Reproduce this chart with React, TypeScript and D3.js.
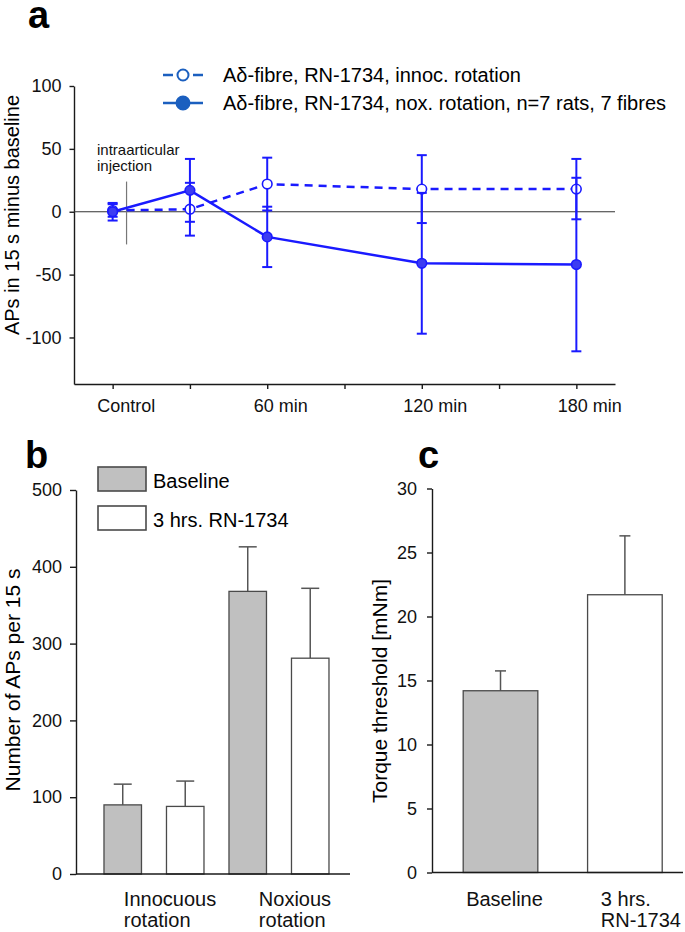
import React, { useEffect, useRef } from 'react';
import * as d3 from 'd3';

// panel a: time course
const timeLabels = ['Control', '', '60 min', '', '120 min', '', '180 min'];
const timeIndex = [0, 1, 2, 4, 6];
const innocMean = [1, 2, 22, 18, 18];
const innocSd = [5, 21, 21, 27, 24];
const noxMean = [0, 17, -20, -41, -42];
const noxSd = [7, 25, 24, 56, 69];
const yTicksA = [100, 50, 0, -50, -100];
const legendA = [
  'Aδ-fibre, RN-1734, innoc. rotation',
  'Aδ-fibre, RN-1734, nox. rotation, n=7 rats, 7 fibres',
];

// panel b: APs per 15 s
const groupsB = [['Innocuous', 'rotation'], ['Noxious', 'rotation']];
const seriesB = ['Baseline', '3 hrs. RN-1734'];
const baselineB = [90, 368];
const baselineErrB = [27, 58];
const drugB = [88, 281];
const drugErrB = [33, 91];
const yTicksB = [0, 100, 200, 300, 400, 500];

// panel c: torque threshold
const categoriesC = [['Baseline'], ['3 hrs.', 'RN-1734']];
const valuesC = [14.2, 21.7];
const errC = [1.55, 4.6];
const yTicksC = [0, 5, 10, 15, 20, 25, 30];

const FONT = '"Liberation Sans", Arial, Helvetica, sans-serif';
const BLUE = '#1a1aff';
const LEGEND_BLUE = '#1b5fbf';
const GREY_FILL = '#c0c0c0';
const EDGE = '#4a4a4a';

const App = () => {
  const svgRef = useRef<SVGSVGElement>(null);

  useEffect(() => {
    const svg = d3.select(svgRef.current);
    svg.selectAll('*').remove();
    svg.attr('font-family', FONT);

    const styleAxis = (g: any, size: number) => {
      g.attr('font-family', null).attr('font-size', null);
      g.select('.domain').attr('stroke', '#1a1a1a').attr('stroke-width', 1.4);
      g.selectAll('.tick line').attr('stroke', '#1a1a1a').attr('stroke-width', 1.4);
      g.selectAll('.tick text')
        .attr('fill', '#111')
        .style('font-size', `${size}px`)
        .style('font-family', FONT);
    };
    const plain = (d: any) => String(d); // hyphen minus like the original

    const panelLabel = (txt: string, x: number, y: number) => {
      svg.append('text')
        .attr('x', x).attr('y', y)
        .style('font-size', '38px')
        .style('font-weight', 'bold')
        .text(txt);
    };

    // ---------------- panel a ----------------
    panelLabel('a', 28, 28);

    const xA = d3.scaleLinear().domain([-0.5, 6.5]).range([74, 615]);
    const yA = d3.scaleLinear().domain([-137, 100]).range([384, 86]);
    const gA = svg.append('g');

    gA.append('g')
      .attr('transform', `translate(74,0)`)
      .call(d3.axisLeft(yA).tickValues(yTicksA).tickFormat(plain)
        .tickSize(4.5).tickSizeOuter(0).tickPadding(8))
      .call(g => styleAxis(g, 18));

    gA.append('g')
      .attr('transform', `translate(0,384)`)
      .call(d3.axisBottom(xA)
        .tickValues(d3.range(timeLabels.length))
        .tickFormat(i => timeLabels[i as number])
        .tickSize(5).tickSizeOuter(0).tickPadding(10))
      .call(g => styleAxis(g, 18))
      .call(g => g.selectAll('.tick text').attr('dx', 13));

    // zero reference line
    gA.append('line')
      .attr('x1', xA.range()[0]).attr('x2', xA.range()[1])
      .attr('y1', yA(0)).attr('y2', yA(0))
      .attr('stroke', '#333').attr('stroke-width', 1.2);

    // injection marker
    gA.append('line')
      .attr('x1', xA(0.18)).attr('x2', xA(0.18))
      .attr('y1', yA(24)).attr('y2', yA(-26))
      .attr('stroke', '#777').attr('stroke-width', 1.2);
    const inj = gA.append('text').style('font-size', '15px').attr('fill', '#111');
    inj.append('tspan').attr('x', 97).attr('y', 155).text('intraarticular');
    inj.append('tspan').attr('x', 97).attr('y', 171).text('injection');

    gA.append('text')
      .attr('transform', `translate(19,215) rotate(-90)`)
      .attr('text-anchor', 'middle')
      .style('font-size', '20px')
      .text('APs in 15 s minus baseline');

    const drawSeries = (mean: number[], sd: number[], filled: boolean) => {
      const pts = mean.map((m, i) => ({ x: xA(timeIndex[i]), m, sd: sd[i] }));
      const eg = gA.append('g').attr('stroke', BLUE).attr('stroke-width', 2);
      pts.forEach(p => {
        eg.append('line').attr('x1', p.x).attr('x2', p.x)
          .attr('y1', yA(p.m + p.sd)).attr('y2', yA(p.m - p.sd));
        [p.m + p.sd, p.m - p.sd].forEach(v => {
          eg.append('line').attr('x1', p.x - 5).attr('x2', p.x + 5)
            .attr('y1', yA(v)).attr('y2', yA(v));
        });
      });
      gA.append('path')
        .datum(pts)
        .attr('fill', 'none')
        .attr('stroke', BLUE)
        .attr('stroke-width', 2.5)
        .attr('stroke-dasharray', filled ? null : '8,6')
        .attr('d', d3.line<any>().x(d => d.x).y(d => yA(d.m)));
      gA.selectAll(null)
        .data(pts)
        .enter()
        .append('circle')
        .attr('cx', d => d.x).attr('cy', d => yA(d.m))
        .attr('r', 4.8)
        .attr('fill', filled ? '#3c3cf2' : '#fff')
        .attr('stroke', BLUE)
        .attr('stroke-width', 1.6);
    };
    drawSeries(innocMean, innocSd, false);
    drawSeries(noxMean, noxSd, true);

    // legend a
    legendA.forEach((label, i) => {
      const y = 75 + i * 28;
      const lg = gA.append('g').attr('transform', `translate(163,${y})`);
      lg.append('line')
        .attr('x1', 0).attr('x2', 40).attr('y1', 0).attr('y2', 0)
        .attr('stroke', LEGEND_BLUE).attr('stroke-width', 2.5)
        .attr('stroke-dasharray', i === 0 ? '10,20,10' : null);
      lg.append('circle')
        .attr('cx', 20).attr('cy', 0).attr('r', i === 0 ? 5.5 : 6.5)
        .attr('fill', i === 0 ? '#fff' : LEGEND_BLUE)
        .attr('stroke', LEGEND_BLUE).attr('stroke-width', 2);
      lg.append('text')
        .attr('x', 60).attr('y', 0).attr('dy', '0.35em')
        .style('font-size', '20px')
        .text(label);
    });

    // category label helper (left-aligned lines, block shifted like the original)
    const catLabel = (g: any, lines: string[], cx: number, y: number) => {
      const t = g.append('text').style('font-size', '20px').attr('fill', '#111');
      lines.forEach((l, i) => t.append('tspan').attr('x', 0).attr('y', i * 21).text(l));
      const w = (t.node() as SVGTextElement).getBBox().width;
      const offset = lines.length > 1 ? 16 : 4;
      t.attr('transform', `translate(${cx + offset - w / 2},${y})`);
    };

    const errBar = (g: any, x: number, yTop: number, yErr: number, half: number) => {
      g.append('line').attr('x1', x).attr('x2', x).attr('y1', yTop).attr('y2', yErr)
        .attr('stroke', '#555').attr('stroke-width', 1.5);
      g.append('line').attr('x1', x - half).attr('x2', x + half).attr('y1', yErr).attr('y2', yErr)
        .attr('stroke', '#555').attr('stroke-width', 1.5);
    };

    // ---------------- panel b ----------------
    panelLabel('b', 25, 468);
    const gB = svg.append('g');
    const yB = d3.scaleLinear().domain([0, 500]).range([874, 490]);
    const x0B = d3.scaleBand<number>().domain([0, 1]).range([76, 350])
      .paddingInner(0.2).paddingOuter(0.196).align(0.571);
    const x1B = d3.scaleBand<string>().domain(seriesB).range([0, x0B.bandwidth()]).paddingInner(0.4);

    const barsB = groupsB.map((_, gi) => [
      { s: seriesB[0], v: baselineB[gi], e: baselineErrB[gi] },
      { s: seriesB[1], v: drugB[gi], e: drugErrB[gi] },
    ]);
    barsB.forEach((grp, gi) => {
      grp.forEach(b => {
        const x = (x0B(gi) as number) + (x1B(b.s) as number);
        errBar(gB, x + x1B.bandwidth() / 2, yB(b.v), yB(b.v + b.e), 9);
        gB.append('rect')
          .attr('x', x).attr('y', yB(b.v))
          .attr('width', x1B.bandwidth()).attr('height', yB(0) - yB(b.v))
          .attr('fill', b.s === seriesB[0] ? GREY_FILL : '#fff')
          .attr('stroke', EDGE).attr('stroke-width', 1.3);
      });
      catLabel(gB, groupsB[gi], (x0B(gi) as number) + x0B.bandwidth() / 2, 906);
    });

    gB.append('g')
      .attr('transform', 'translate(76,0)')
      .call(d3.axisLeft(yB).tickValues(yTicksB).tickFormat(plain)
        .tickSize(6).tickSizeOuter(0).tickPadding(8))
      .call(g => styleAxis(g, 18));
    gB.append('line')
      .attr('x1', 76).attr('x2', 350).attr('y1', yB(0)).attr('y2', yB(0))
      .attr('stroke', '#1a1a1a').attr('stroke-width', 1.4);

    gB.append('text')
      .attr('transform', 'translate(20,680) rotate(-90)')
      .attr('text-anchor', 'middle')
      .style('font-size', '21px')
      .text('Number of APs per 15 s');

    seriesB.forEach((s, i) => {
      const y = 467 + i * 39;
      gB.append('rect')
        .attr('x', 98).attr('y', y).attr('width', 48).attr('height', 24)
        .attr('fill', i === 0 ? GREY_FILL : '#fff')
        .attr('stroke', EDGE).attr('stroke-width', 1.6);
      gB.append('text')
        .attr('x', 153).attr('y', y + 21)
        .style('font-size', '20px')
        .text(s);
    });

    // ---------------- panel c ----------------
    panelLabel('c', 418, 468);
    const gC = svg.append('g');
    const yC = d3.scaleLinear().domain([0, 30]).range([872.5, 488.5]);
    const xC = d3.scaleBand<number>().domain([0, 1]).range([432, 683])
      .paddingInner(0.4).paddingOuter(0.209).align(0.6);

    valuesC.forEach((v, i) => {
      const x = xC(i) as number;
      errBar(gC, x + xC.bandwidth() / 2, yC(v), yC(v + errC[i]), 5.5);
      gC.append('rect')
        .attr('x', x).attr('y', yC(v))
        .attr('width', xC.bandwidth()).attr('height', yC(0) - yC(v))
        .attr('fill', i === 0 ? GREY_FILL : '#fff')
        .attr('stroke', EDGE).attr('stroke-width', 1.3);
      catLabel(gC, categoriesC[i], x + xC.bandwidth() / 2, 906);
    });

    gC.append('g')
      .attr('transform', 'translate(432,0)')
      .call(d3.axisLeft(yC).tickValues(yTicksC).tickFormat(plain)
        .tickSize(5).tickSizeOuter(0).tickPadding(10))
      .call(g => styleAxis(g, 18));
    gC.append('line')
      .attr('x1', 432).attr('x2', 683).attr('y1', yC(0)).attr('y2', yC(0))
      .attr('stroke', '#1a1a1a').attr('stroke-width', 1.4);

    gC.append('text')
      .attr('transform', 'translate(387,691) rotate(-90)')
      .attr('text-anchor', 'middle')
      .style('font-size', '21px')
      .text('Torque threshold [mNm]');
  }, []);

  return (
    <div style={{ position: 'absolute', left: 0, top: 0 }}>
      <svg ref={svgRef} width={685} height={932} style={{ display: 'block', background: '#fff' }} />
    </div>
  );
};

export default App;
